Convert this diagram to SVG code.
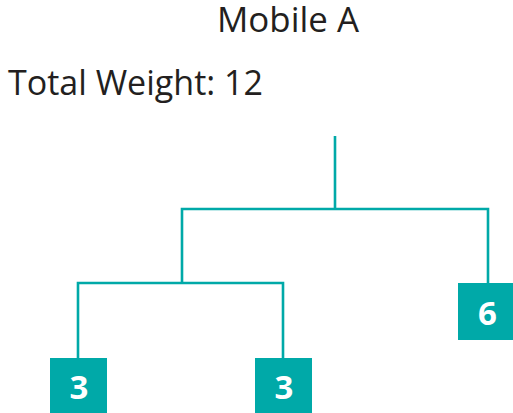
<svg xmlns="http://www.w3.org/2000/svg" width="513" height="413" viewBox="0 0 513 413">
<style>
.t{font-family:"Open Sans","Noto Sans","Liberation Sans",sans-serif;fill:#231f20;font-size:34px}
.c{fill:none;stroke:#00a9a8;stroke-width:2.6}
.b{fill:#00a9a8}
.n{font-family:"Open Sans","Noto Sans","Liberation Sans",sans-serif;fill:#ffffff;font-size:33px;font-weight:bold;text-anchor:middle}
</style>
<rect width="513" height="413" fill="#ffffff"/>
<text class="t" x="217" y="32" textLength="142" lengthAdjust="spacingAndGlyphs">Mobile A</text>
<text class="t" x="8" y="95" textLength="255" lengthAdjust="spacingAndGlyphs">Total Weight: 12</text>
<g id="connectors">
<path class="c" d="M335 136V209M182 283V209H488V283M78 358V283H283V358"/>
</g>
<g id="node-6"><rect class="b" x="458" y="283" width="55" height="57"/><text class="n" x="487.5" y="325">6</text></g>
<g id="node-3a"><rect class="b" x="50" y="358" width="57" height="55"/><text class="n" x="79" y="399">3</text></g>
<g id="node-3b"><rect class="b" x="255" y="358" width="57" height="55"/><text class="n" x="284" y="399">3</text></g>
</svg>
